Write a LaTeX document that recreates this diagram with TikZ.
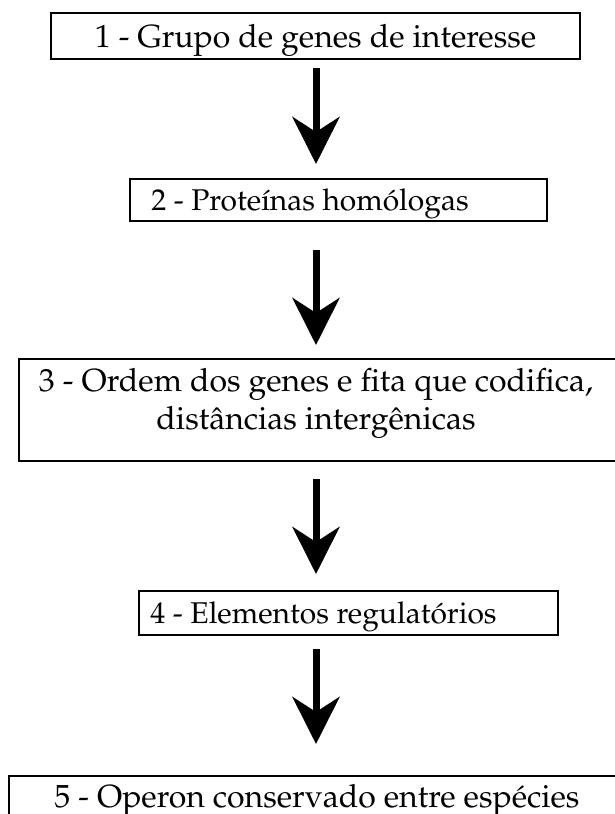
\documentclass[tikz,border=0pt]{standalone}
\usepackage[T1]{fontenc}
\usepackage{mathpazo}
\usetikzlibrary{arrows.meta}

\tikzset{caixa/.style={draw,rectangle,line width=1.6pt,inner sep=0pt},
texto/.style={anchor=base,inner sep=0pt,font=\fontsize{32}{40}\selectfont},
textomenor/.style={texto,font=\fontsize{30}{38}\selectfont},
seta/.style={line width=7pt,-{Stealth[length=47pt,width=47pt,inset=15pt]}}}

\begin{document}
\begin{tikzpicture}[x=1pt,y=-1pt]
\useasboundingbox (0,0) rectangle (615,814);
\clip (0,0) rectangle (615,814);
\node[caixa,minimum width=529pt,minimum height=46pt] (c1) at (315.5,36) {};
\node[caixa,minimum width=417pt,minimum height=42pt] (c2) at (338.5,200) {};
\node[caixa,minimum width=601pt,minimum height=102pt] (c3) at (319.5,410) {};
\node[caixa,minimum width=419pt,minimum height=44pt] (c4) at (348.5,613) {};
\node[caixa,minimum width=616pt,minimum height=56pt] (c5) at (317,804) {};
\node[texto] (t1) at (315.5,47) {1 - Grupo de genes de interesse};
\node[textomenor] (t2) at (310,210) {2 - Prote\'{\i}nas hom\'ologas};
\node[texto] (t3a) at (316,391) {3 - Ordem dos genes e fita que codifica,};
\node[texto] (t3b) at (316,429) {dist\^ancias interg\^enicas};
\node[textomenor] (t4) at (323.5,623) {4 - Elementos regulat\'orios};
\node[texto] (t5) at (317,807) {5 - Operon conservado entre esp\'ecies};
\coordinate (s1) at (316,68); \coordinate (p1) at (316,164);
\coordinate (s2) at (316,250); \coordinate (p2) at (316,345);
\coordinate (s3) at (316,479); \coordinate (p3) at (316,574);
\coordinate (s4) at (316,649); \coordinate (p4) at (316,744);
\draw[seta] (s1) -- (p1);
\draw[seta] (s2) -- (p2);
\draw[seta] (s3) -- (p3);
\draw[seta] (s4) -- (p4);
\end{tikzpicture}
\end{document}
